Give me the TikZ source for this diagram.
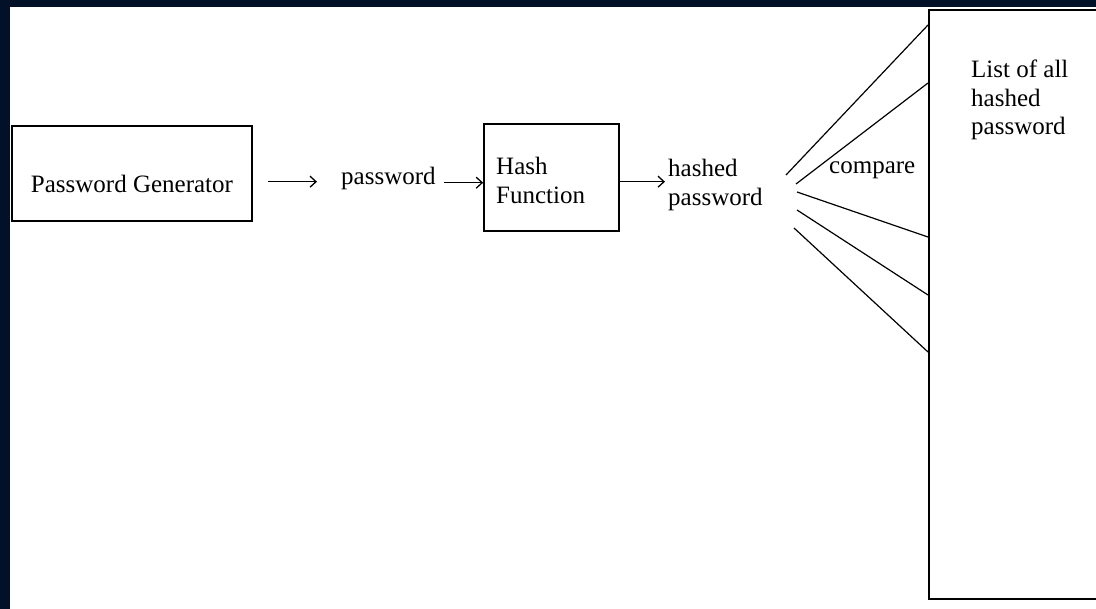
\documentclass[tikz,border=0pt]{standalone}
\usepackage{fontspec}
\setmainfont{Liberation Serif}
\usetikzlibrary{arrows.meta}
\definecolor{frame}{RGB}{2,16,40}
\begin{document}
\begin{tikzpicture}[x=1pt,y=-1pt,
  every node/.style={font=\fontsize{25}{28.5}\selectfont},
  box/.style={draw, line width=1.7pt, inner sep=0pt},
  txt/.style={inner sep=0pt, align=left},
  arr/.style={line width=1.3pt, -{Straight Barb[length=6pt,width=11pt]}},
  fan/.style={line width=1.2pt}]
  % dark surround and white sheet
  \fill[frame] (0,0) rectangle (1096,609);
  \fill[white] (10,7) rectangle (1096,609);
  \useasboundingbox (0,0) rectangle (1096,609);
  \begin{scope}
  \clip (10,7) rectangle (1096,609);

  % boxes and labels
  \node[box, minimum width=240pt, minimum height=95pt,
        text height=39pt, text depth=0pt] (gen) at (132,173.5) {Password Generator};
  \node[txt, anchor=base west] (pw) at (341,185) {password};
  \node[box, minimum width=135pt, minimum height=107pt] (hash) at (551.5,177.5) {};
  \node[txt, anchor=north west] (hashtxt) at (496,157) {Hash\\Function};
  \node[txt, anchor=north west] (hp) at (668,159) {hashed\\password};
  \node[txt, anchor=base west] (cmp) at (829,174) {compare};
  \node[box, anchor=north west, minimum width=200pt, minimum height=589pt] (list) at (928,9) {};
  \node[txt, anchor=north west] (listtxt) at (971,60) {List of all\\hashed\\password};

  % flow arrows
  \draw[arr] ([xshift=15pt,yshift=1pt]gen.east |- pw.mid) -- ([xshift=-24pt,yshift=1pt]pw.mid west);
  \draw[arr] ([xshift=8pt]pw.mid east) -- (hash.west |- pw.mid);
  \draw[arr] ([yshift=1pt]hash.east |- pw.mid) -- ([xshift=-3pt,yshift=1pt]hp.west |- pw.mid);

  % comparison fan against the list
  \coordinate (s1) at (786,175); \coordinate (e1) at (list.north west |- 0,25);
  \coordinate (s2) at (796,184); \coordinate (e2) at (list.north west |- 0,83);
  \coordinate (s3) at (797,192); \coordinate (e3) at (list.north west |- 0,237);
  \coordinate (s4) at (797,210); \coordinate (e4) at (list.north west |- 0,295);
  \coordinate (s5) at (794,228); \coordinate (e5) at (list.north west |- 0,352);
  \foreach \i in {1,...,5} \draw[fan] (s\i) -- (e\i);
  \end{scope}
\end{tikzpicture}
\end{document}
